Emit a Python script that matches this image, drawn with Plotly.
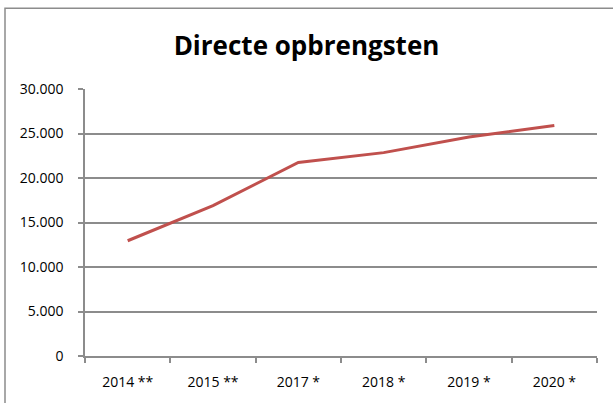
"""
Directe opbrengsten - lijngrafiek
"""

import plotly.graph_objects as go

# data
jaren = ["2014 **", "2015 **", "2017 *", "2018 *", "2019 *", "2020 *"]
opbrengsten = [12950, 16900, 21750, 22850, 24600, 25900]
y_ticks = [0, 5000, 10000, 15000, 20000, 25000, 30000]

W, H = 613, 403
ML, MR, MT, MB = 85, 16, 89, 43
pw, ph = W - ML - MR, H - MT - MB

fig = go.Figure()

fig.add_trace(
    go.Scatter(
        x=jaren,
        y=opbrengsten,
        mode="lines",
        line=dict(color="#C0504D", width=3),
        showlegend=False,
    )
)

# kader rond de grafiek (loopt rechts en onder buiten beeld)
fig.add_shape(
    type="rect",
    xref="paper", yref="paper",
    x0=(5 - ML) / pw, x1=(W + 20 - ML) / pw,
    y0=-(20 + MB) / ph, y1=(H - MB - 7) / ph,
    line=dict(color="#8c8c8c", width=1.5),
    layer="below",
)

fig.update_layout(
    width=W, height=H,
    margin=dict(l=ML, r=MR, t=MT, b=MB),
    paper_bgcolor="white",
    plot_bgcolor="white",
    separators=",.",
    title=dict(
        text="<b>Directe opbrengsten</b>",
        x=0.5, xanchor="center",
        y=1 - 46 / H, yanchor="middle",
        font=dict(family="Open Sans", size=26, color="black"),
    ),
    font=dict(family="Open Sans", size=14, color="black"),
)

fig.update_xaxes(
    type="category",
    range=[-0.5, len(jaren) - 0.5],
    showgrid=False,
    showline=True, linecolor="#8c8c8c", linewidth=1.5,
    ticks="outside", tickson="boundaries", ticklen=5,
    tickcolor="#8c8c8c", tickwidth=1.5,
    ticklabelstandoff=12,
)

fig.update_yaxes(
    range=[0, 30000],
    tickvals=y_ticks,
    tickformat=",d",
    showgrid=True, gridcolor="#8c8c8c", gridwidth=1.5,
    showline=True, linecolor="#8c8c8c", linewidth=1.5,
    ticks="outside", ticklen=5, tickcolor="#8c8c8c", tickwidth=1.5,
    ticklabelstandoff=12,
    zeroline=False,
)

# standaard body-marge van de browser weghalen
fig.write_html(
    "out.html",
    config={"displayModeBar": False},
    post_script="document.body.style.margin='0';",
)
